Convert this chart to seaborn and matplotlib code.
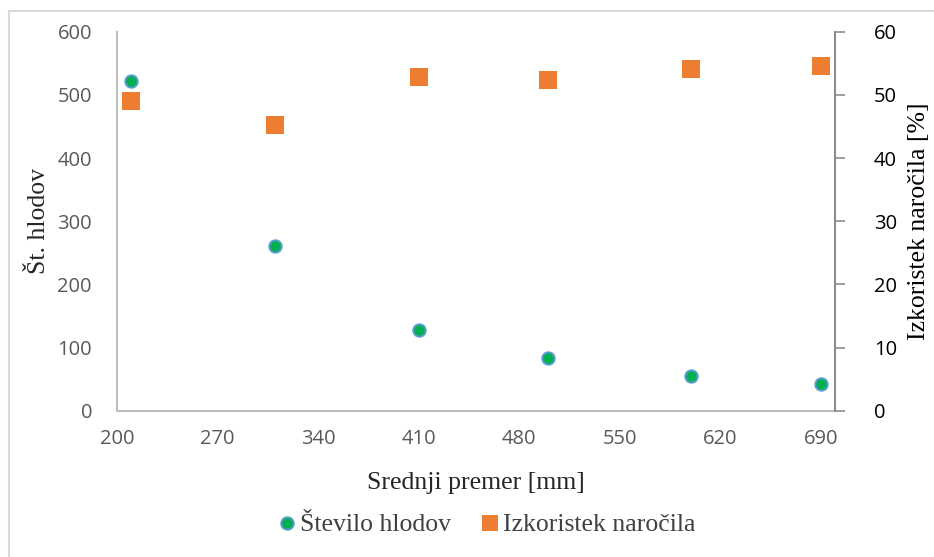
import matplotlib
matplotlib.use("Agg")
import matplotlib.pyplot as plt
from matplotlib.lines import Line2D
import seaborn as sns
import pandas as pd

# Average log diameter [mm]
premer = [210, 310, 410, 500, 600, 690]
# Number of logs
stevilo_hlodov = [522, 261, 128, 84, 55, 43]
# Order yield [%]
izkoristek = [49.1, 45.3, 52.9, 52.3, 54.1, 54.5]

x_ticks = [200, 270, 340, 410, 480, 550, 620, 690]
y_left_ticks = [0, 100, 200, 300, 400, 500, 600]
y_right_ticks = [0, 10, 20, 30, 40, 50, 60]

df = pd.DataFrame({"premer": premer, "hlodi": stevilo_hlodov, "izkoristek": izkoristek})

sns.set_theme(style="white")
plt.rcParams["font.family"] = ["Open Sans", "DejaVu Sans"]

GREEN = "#00B050"
BLUE_EDGE = "#5B9BD5"
ORANGE = "#ED7D31"
TICK_GRAY = "#595959"
SERIF = ["Liberation Serif", "DejaVu Serif"]

fig = plt.figure(figsize=(9.34, 5.57), dpi=100)
ax = fig.add_axes([117 / 934, 1 - 410.7 / 557, 718 / 934, 379 / 557])
ax2 = ax.twinx()

sns.scatterplot(data=df, x="premer", y="hlodi", ax=ax, marker="o", s=80,
                color=GREEN, edgecolor=BLUE_EDGE, linewidth=1.4, zorder=3, legend=False)
sns.scatterplot(data=df, x="premer", y="izkoristek", ax=ax2, marker="s", s=165,
                color=ORANGE, edgecolor=ORANGE, linewidth=0, zorder=3, legend=False)

ax.set_xlim(200, 700)
ax.set_xticks(x_ticks)
ax.set_ylim(0, 600)
ax.set_yticks(y_left_ticks)
ax2.set_ylim(0, 60)
ax2.set_yticks(y_right_ticks)

for a in (ax, ax2):
    for s in a.spines.values():
        s.set_visible(False)
ax.spines["left"].set_visible(True)
ax.spines["left"].set_color("#BFBFBF")
ax.spines["left"].set_linewidth(1.5)
ax.spines["bottom"].set_visible(True)
ax.spines["bottom"].set_color("#BFBFBF")
ax.spines["bottom"].set_linewidth(1.5)
ax2.spines["right"].set_visible(True)
ax2.spines["right"].set_color("#8C8C8C")
ax2.spines["right"].set_linewidth(1.5)

ax.tick_params(axis="both", length=0, labelsize=14.5, labelcolor=TICK_GRAY)
ax.tick_params(axis="y", pad=18)
ax.tick_params(axis="x", pad=13)
ax2.tick_params(axis="y", length=7, width=1.2, color="#8C8C8C", direction="out",
                labelsize=14.5, labelcolor="black", pad=21)

ax.set_xlabel("Srednji premer [mm]", fontsize=18.5, family=SERIF, color="#262626", labelpad=17)
ax.set_ylabel("Št. hlodov", fontsize=18.5, family=SERIF, color="#262626", labelpad=5)
ax2.set_ylabel("Izkoristek naročila [%]", fontsize=18.5, family=SERIF, color="black",
               rotation=90, labelpad=8)
ax2.yaxis.set_label_position("right")

handles = [
    Line2D([], [], linestyle="none", marker="o", markersize=9, markerfacecolor=GREEN,
           markeredgecolor=BLUE_EDGE, markeredgewidth=1.4, label="Število hlodov"),
    Line2D([], [], linestyle="none", marker="s", markersize=12, markerfacecolor=ORANGE,
           markeredgecolor=ORANGE, markeredgewidth=0, label="Izkoristek naročila"),
]
fig.legend(handles=handles, loc="center", bbox_to_anchor=(486 / 934, 1 - 525 / 557),
           ncol=2, frameon=False, prop={"family": SERIF, "size": 18.5},
           handletextpad=0.1, columnspacing=1.1, handlelength=0.8,
           labelcolor="#404040")

# Thin chart-area border on the left and top
fig.add_artist(Line2D([9 / 934, 9 / 934], [0, 1 - 11 / 557], transform=fig.transFigure,
                      color="#D9D9D9", linewidth=1.5))
fig.add_artist(Line2D([9 / 934, 1], [1 - 11 / 557, 1 - 11 / 557], transform=fig.transFigure,
                      color="#D9D9D9", linewidth=1.5))

fig.savefig("out.png", dpi=100, facecolor="white")
